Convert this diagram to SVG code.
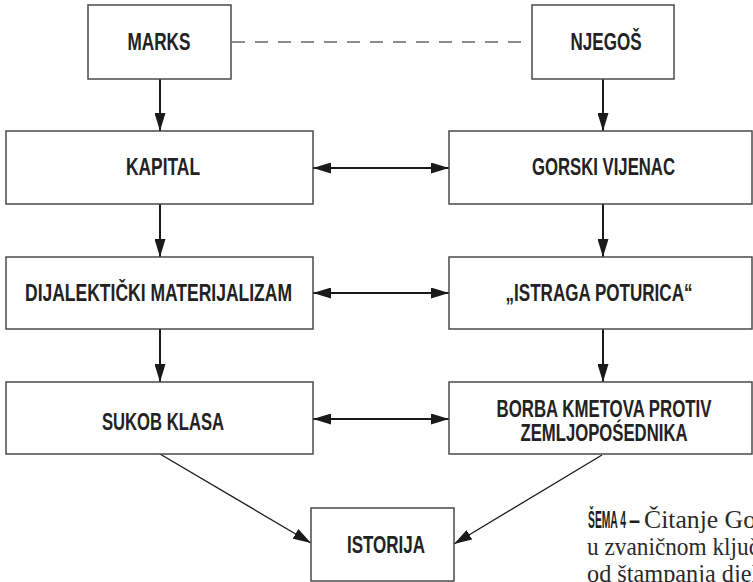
<svg xmlns="http://www.w3.org/2000/svg" width="753" height="582" viewBox="0 0 753 582">
<style>
.box{fill:#fff;stroke:#4a4a4a;stroke-width:1.5}
.lbl{font-family:"Liberation Sans",Arial,sans-serif;font-size:23px;font-weight:bold;fill:#222;text-anchor:middle}
.arr{stroke:#1a1a1a;stroke-width:2;fill:none}
.diag{stroke:#1a1a1a;stroke-width:1.3;fill:none}
.dash{stroke:#666;stroke-width:1.5;stroke-dasharray:13 10;fill:none}
.cap{font-family:"Liberation Serif","Times New Roman",serif;font-size:25px;fill:#2a2a2a}
.capb{font-family:"Liberation Sans",Arial,sans-serif;font-size:24px;font-weight:bold;fill:#1e1e1e}
</style>
<defs>
<marker id="ah" markerUnits="userSpaceOnUse" markerWidth="19" markerHeight="11" refX="18" refY="5.5" orient="auto-start-reverse">
<path d="M0,0 L18,5.5 L0,11 z" fill="#1a1a1a"/>
</marker>
</defs>
<g id="connectors">
<line class="dash" x1="232" y1="42" x2="531" y2="42"/>
<line class="arr" x1="160" y1="79" x2="160" y2="131" marker-end="url(#ah)"/>
<line class="arr" x1="603" y1="79" x2="603" y2="131" marker-end="url(#ah)"/>
<line class="arr" x1="160" y1="204" x2="160" y2="257" marker-end="url(#ah)"/>
<line class="arr" x1="603" y1="204" x2="603" y2="257" marker-end="url(#ah)"/>
<line class="arr" x1="160" y1="329" x2="160" y2="382" marker-end="url(#ah)"/>
<line class="arr" x1="603" y1="329" x2="603" y2="382" marker-end="url(#ah)"/>
<line class="arr" x1="313" y1="168" x2="449" y2="168" marker-start="url(#ah)" marker-end="url(#ah)"/>
<line class="arr" x1="313" y1="293" x2="449" y2="293" marker-start="url(#ah)" marker-end="url(#ah)"/>
<line class="arr" x1="313" y1="419" x2="449" y2="419" marker-start="url(#ah)" marker-end="url(#ah)"/>
<line class="diag" x1="160" y1="454" x2="311" y2="543" marker-end="url(#ah)"/>
<line class="diag" x1="602" y1="455" x2="454" y2="544" marker-end="url(#ah)"/>
</g>
<g id="marks"><rect class="box" x="88" y="5" width="143" height="74"/><text class="lbl" x="159" y="50" textLength="63" lengthAdjust="spacingAndGlyphs">MARKS</text></g>
<g id="njegos"><rect class="box" x="532" y="5" width="142" height="74"/><text class="lbl" x="606" y="50" textLength="71" lengthAdjust="spacingAndGlyphs">NJEGOŠ</text></g>
<g id="kapital"><rect class="box" x="6" y="131" width="307" height="73"/><text class="lbl" x="163" y="175" textLength="74" lengthAdjust="spacingAndGlyphs">KAPITAL</text></g>
<g id="gorski"><rect class="box" x="449" y="131" width="303" height="73"/><text class="lbl" x="603.5" y="175" textLength="143" lengthAdjust="spacingAndGlyphs">GORSKI VIJENAC</text></g>
<g id="dijalekticki"><rect class="box" x="6" y="257" width="307" height="72"/><text class="lbl" x="158.5" y="301" textLength="267" lengthAdjust="spacingAndGlyphs">DIJALEKTIČKI MATERIJALIZAM</text></g>
<g id="istraga"><rect class="box" x="449" y="257" width="303" height="72"/><text class="lbl" x="599" y="301" textLength="187" lengthAdjust="spacingAndGlyphs">„ISTRAGA POTURICA“</text></g>
<g id="sukob"><rect class="box" x="6" y="382" width="307" height="72"/><text class="lbl" x="163" y="430" textLength="122" lengthAdjust="spacingAndGlyphs">SUKOB KLASA</text></g>
<g id="borba"><rect class="box" x="449" y="382" width="303" height="72"/><text class="lbl" x="604" y="417" textLength="215" lengthAdjust="spacingAndGlyphs">BORBA KMETOVA PROTIV</text><text class="lbl" x="604" y="441" textLength="167" lengthAdjust="spacingAndGlyphs">ZEMLJOPOŚEDNIKA</text></g>
<g id="istorija"><rect class="box" x="311" y="508" width="143" height="73"/><text class="lbl" x="386" y="553" textLength="78" lengthAdjust="spacingAndGlyphs">ISTORIJA</text></g>
<g id="caption">
<text class="capb" x="588" y="528" textLength="38" lengthAdjust="spacingAndGlyphs">ŠEMA 4</text>
<text class="capb" x="629" y="528" textLength="11" lengthAdjust="spacingAndGlyphs">–</text>
<text class="cap" x="644" y="528" textLength="112" lengthAdjust="spacingAndGlyphs">Čitanje Go</text>
<text class="cap" x="587" y="555" textLength="172" lengthAdjust="spacingAndGlyphs">u zvaničnom ključ</text>
<text class="cap" x="587" y="582" textLength="182" lengthAdjust="spacingAndGlyphs">od štampanja djela</text>
</g>
</svg>
